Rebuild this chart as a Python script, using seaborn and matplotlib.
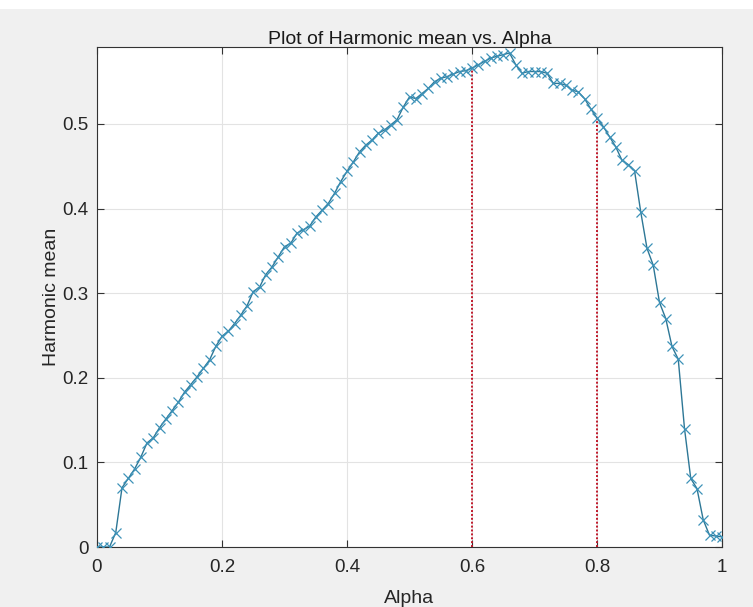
import numpy as np
import pandas as pd
import matplotlib
matplotlib.use("Agg")
import matplotlib.pyplot as plt
from matplotlib.ticker import FormatStrFormatter
from matplotlib.patches import Rectangle
import seaborn as sns

# ---- data ----
alpha = [round(i * 0.01, 2) for i in range(101)]
harmonic_mean = [
    0.000, 0.000, 0.000, 0.017, 0.070, 0.081, 0.092, 0.106, 0.123, 0.129,
    0.141, 0.151, 0.161, 0.171, 0.183, 0.192, 0.201, 0.211, 0.221, 0.237,
    0.249, 0.255, 0.264, 0.274, 0.285, 0.302, 0.307, 0.322, 0.331, 0.343,
    0.355, 0.359, 0.371, 0.375, 0.379, 0.390, 0.398, 0.406, 0.418, 0.432,
    0.444, 0.455, 0.467, 0.475, 0.481, 0.489, 0.493, 0.499, 0.505, 0.520,
    0.532, 0.530, 0.536, 0.542, 0.550, 0.554, 0.556, 0.559, 0.562, 0.563,
    0.566, 0.570, 0.574, 0.578, 0.580, 0.582, 0.584, 0.570, 0.560, 0.562,
    0.562, 0.562, 0.560, 0.548, 0.548, 0.546, 0.540, 0.538, 0.530, 0.518,
    0.507, 0.497, 0.485, 0.473, 0.457, 0.452, 0.445, 0.396, 0.353, 0.333,
    0.289, 0.270, 0.237, 0.222, 0.140, 0.081, 0.069, 0.032, 0.014, 0.013,
    0.012,
]
marked_alphas = [0.6, 0.8]
x_ticks = [0, 0.2, 0.4, 0.6, 0.8, 1]
y_ticks = [0, 0.1, 0.2, 0.3, 0.4, 0.5]
title = "Plot of Harmonic mean vs. Alpha"
x_label = "Alpha"
y_label = "Harmonic mean"

df = pd.DataFrame({"Alpha": alpha, "Harmonic mean": harmonic_mean})

sns.set_style("white")
plt.rcParams["font.family"] = ["Liberation Sans", "DejaVu Sans"]

fig = plt.figure(figsize=(7.53, 6.07), dpi=100, facecolor="#f0f0f0")
fig.patches.append(Rectangle((0, 598 / 607), 1, 9 / 607, transform=fig.transFigure,
                             facecolor="white", edgecolor="none", zorder=-1))
ax = fig.add_axes([97 / 753, 60 / 607, 625 / 753, 500 / 607])
ax.set_facecolor("white")

line_color = "#2d7796"
sns.lineplot(data=df, x="Alpha", y="Harmonic mean", ax=ax, color=line_color,
             linewidth=1.0, marker="x", markersize=6.5, markeredgewidth=0.9,
             markeredgecolor="#3d92b8", zorder=3)

for a in marked_alphas:
    idx = alpha.index(a)
    ax.plot([a, a], [0, harmonic_mean[idx]], linestyle=(0, (1, 1)),
            color="#c0182a", linewidth=1.4, zorder=2)

ax.set_xlim(0, 1)
ax.set_ylim(0, 0.591)
ax.set_xticks(x_ticks)
ax.set_yticks(y_ticks)
ax.xaxis.set_major_formatter(FormatStrFormatter("%g"))
ax.yaxis.set_major_formatter(FormatStrFormatter("%g"))
ax.grid(True, color="#e3e3e3", linewidth=0.8, zorder=0)
ax.set_axisbelow(True)
ax.tick_params(direction="in", length=5, width=0.8, color="#333333",
               labelsize=13.5, labelcolor="#262626", top=True, right=True,
               bottom=True, left=True)
ax.tick_params(axis="x", pad=9)
ax.tick_params(axis="y", pad=6)
for s in ax.spines.values():
    s.set_color("#333333")
    s.set_linewidth(0.8)

ax.set_title(title, fontsize=14, color="#1a1a1a", pad=2)
ax.set_xlabel(x_label, fontsize=14, color="#262626", labelpad=10)
ax.set_ylabel(y_label, fontsize=14, color="#262626", labelpad=2)

fig.savefig("out.png", dpi=100, facecolor=fig.get_facecolor())
